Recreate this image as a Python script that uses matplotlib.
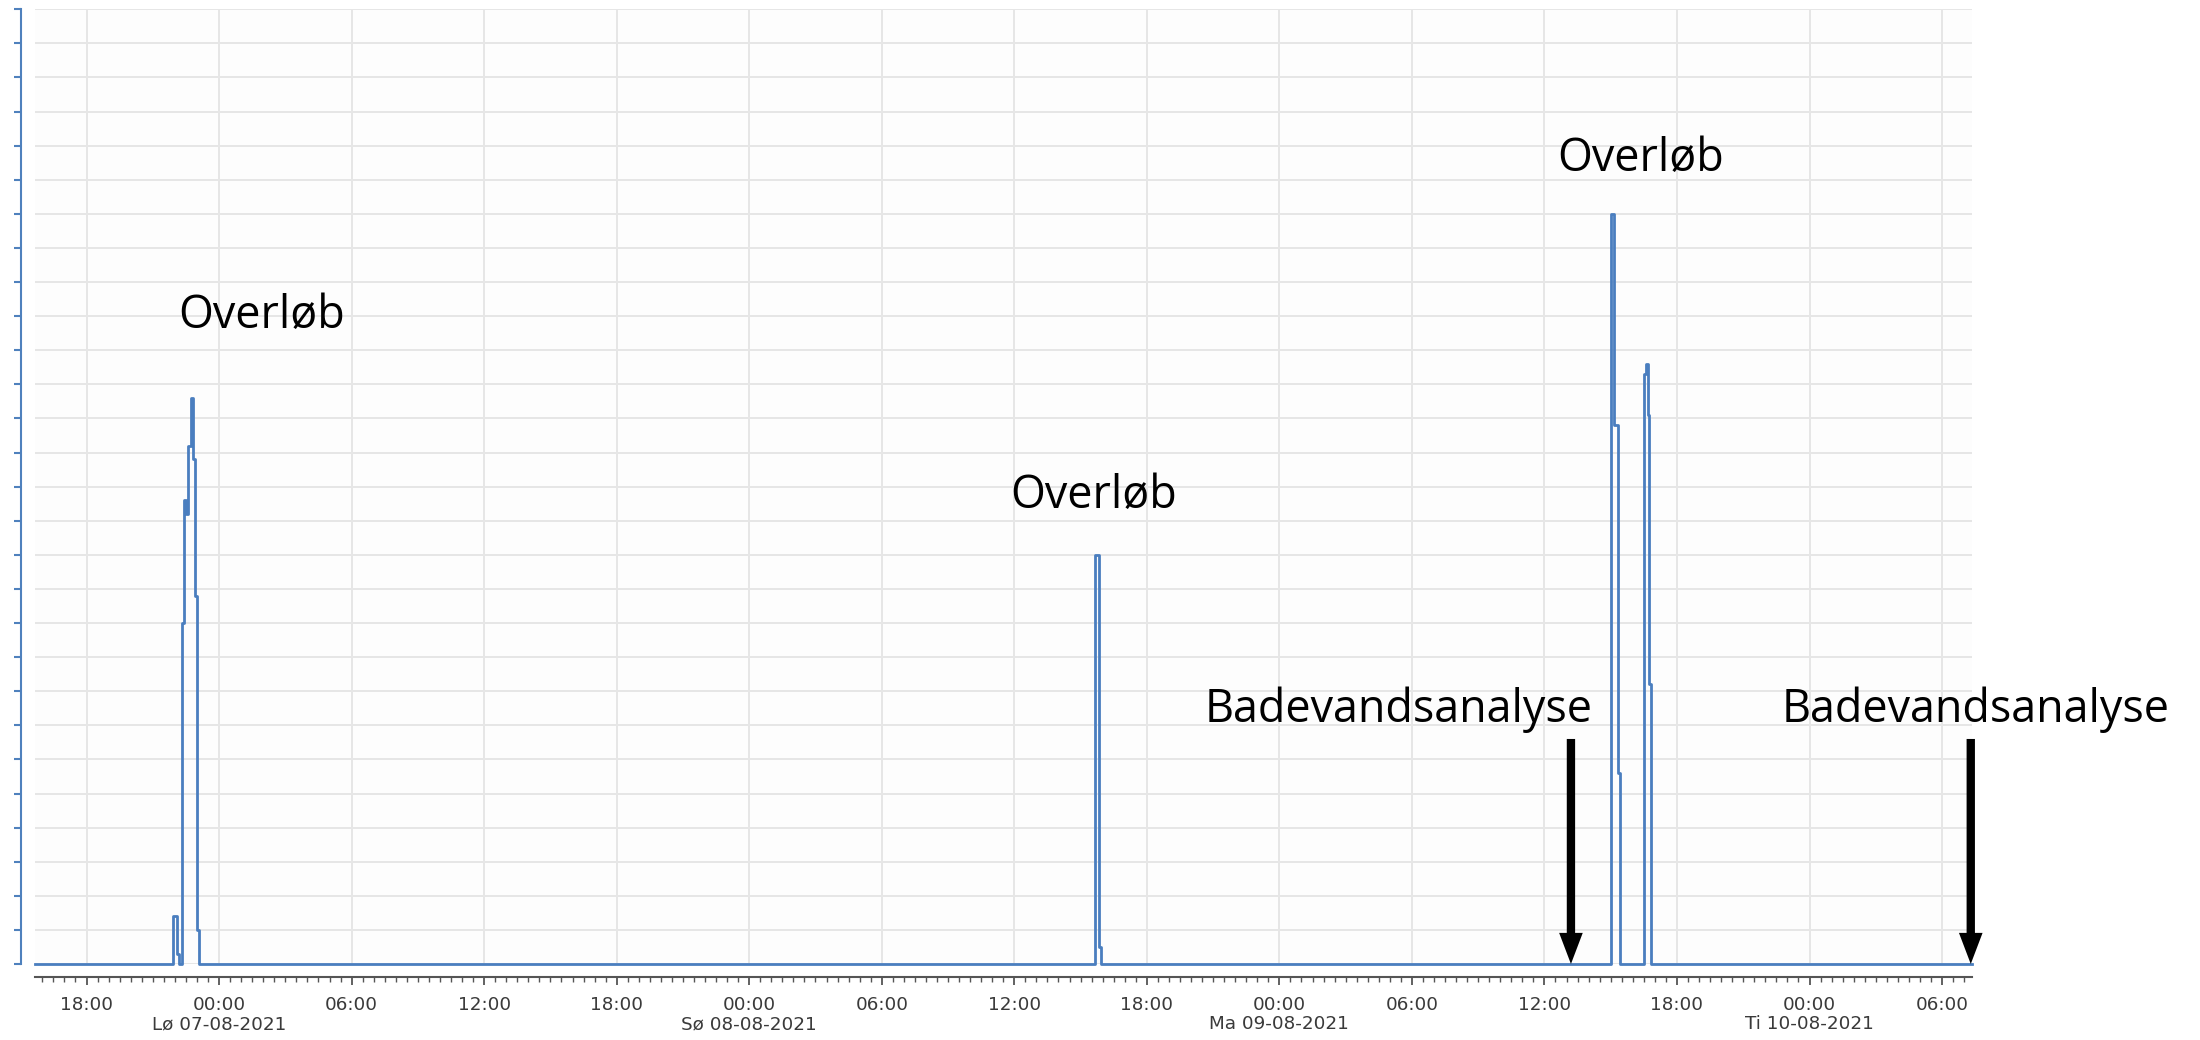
import matplotlib
matplotlib.use('Agg')
import matplotlib.pyplot as plt
import matplotlib.dates as mdates
from matplotlib.ticker import MultipleLocator, FuncFormatter
import pandas as pd

# overløbsmåling, trinværdier (enheder = gitterlinjer, aksen har ingen tal)
step_times = ['2021-08-06 15:40', '2021-08-06 21:55', '2021-08-06 22:05', '2021-08-06 22:10',
              '2021-08-06 22:20', '2021-08-06 22:25', '2021-08-06 22:30', '2021-08-06 22:35',
              '2021-08-06 22:45', '2021-08-06 22:50', '2021-08-06 22:55', '2021-08-06 23:00',
              '2021-08-06 23:05',
              '2021-08-08 15:40', '2021-08-08 15:50', '2021-08-08 15:55',
              '2021-08-09 15:00', '2021-08-09 15:10', '2021-08-09 15:20', '2021-08-09 15:25',
              '2021-08-09 16:30', '2021-08-09 16:35', '2021-08-09 16:40', '2021-08-09 16:45',
              '2021-08-09 16:50',
              '2021-08-10 07:20']
step_values = [0, 1.4, 0.3, 0,
               10.0, 13.6, 13.2, 15.2,
               16.6, 14.8, 10.8, 1.0,
               0,
               12.0, 0.5, 0,
               22.0, 15.8, 5.6, 0,
               17.3, 17.6, 16.1, 8.2,
               0,
               0]

overlob_times = ['2021-08-07 01:55', '2021-08-08 15:35', '2021-08-09 16:20']
overlob_levels = [18.65, 13.37, 23.25]

analyse_times = ['2021-08-09 13:12', '2021-08-10 07:18']
analyse_text_times = ['2021-08-09 05:25', '2021-08-10 07:32']
analyse_text_level = 7.1
arrow_top = 6.6

day_abbr = ['Ma', 'Ti', 'On', 'To', 'Fr', 'Lø', 'Sø']
x_start, x_end = '2021-08-06 15:40', '2021-08-10 07:20'
y_max = 28

blue = '#4a7ebf'
spine_blue = '#4f81bd'
grey = '#555555'

t = pd.to_datetime(step_times)

fig = plt.figure(figsize=(22, 10.4), dpi=100)
ax = fig.add_axes([35 / 2200, 1 - 964 / 1040, (1971.5 - 35) / 2200, (964 - 9.3) / 1040])
ax.set_facecolor('#fdfdfd')

ax.plot(t, step_values, drawstyle='steps-post', color=blue, lw=2, clip_on=False, zorder=3)

ax.set_xlim(pd.Timestamp(x_start), pd.Timestamp(x_end))
ax.set_ylim(0, y_max)

# akser
for s in ['top', 'right']:
    ax.spines[s].set_visible(False)
ax.spines['left'].set_position(('outward', 10.3))
ax.spines['left'].set_bounds(0, y_max)
ax.spines['left'].set_color(spine_blue)
ax.spines['left'].set_linewidth(1.5)
ax.spines['bottom'].set_position(('outward', 9.4))
ax.spines['bottom'].set_color(grey)
ax.spines['bottom'].set_linewidth(1.5)

ax.yaxis.set_major_locator(MultipleLocator(1))
ax.tick_params(axis='y', length=5, width=1.5, color=spine_blue, labelleft=False)


def fmt(x, pos):
    d = mdates.num2date(x)
    s = d.strftime('%H:%M')
    if d.hour == 0:
        s += '\n' + day_abbr[d.weekday()] + d.strftime(' %d-%m-%Y')
    return s


ax.xaxis.set_major_locator(mdates.HourLocator(byhour=[0, 6, 12, 18]))
ax.xaxis.set_minor_locator(mdates.MinuteLocator(byminute=[0, 30]))
ax.xaxis.set_major_formatter(FuncFormatter(fmt))
ax.tick_params(axis='x', which='major', length=5.8, width=1.3, color=grey,
               labelsize=13.2, labelcolor='#3a3a3a', pad=7.8)
ax.tick_params(axis='x', which='minor', length=3.5, width=1.0, color=grey)
for lbl in ax.get_xticklabels():
    lbl.set_linespacing(1.09)

ax.grid(True, which='major', color='#e6e6e6', lw=1.4)
ax.set_axisbelow(True)

# tekster
for tt, lev in zip(overlob_times, overlob_levels):
    ax.text(pd.Timestamp(tt), lev, 'Overløb', ha='center', va='baseline',
            fontsize=32.3, family='Open Sans', color='black', clip_on=False)

for tt in analyse_text_times:
    ax.text(pd.Timestamp(tt), analyse_text_level, 'Badevandsanalyse', ha='center', va='baseline',
            fontsize=32.3, family='Open Sans', color='black', clip_on=False)

for tt in analyse_times:
    x = pd.Timestamp(tt)
    ax.annotate('', xy=(x, 0), xytext=(x, arrow_top), annotation_clip=False,
                arrowprops=dict(arrowstyle='simple,head_length=1.12,head_width=0.85,tail_width=0.3',
                                mutation_scale=20, fc='black', ec='none', lw=0,
                                shrinkA=0, shrinkB=0), zorder=5)

fig.savefig('out.png', dpi=100)
